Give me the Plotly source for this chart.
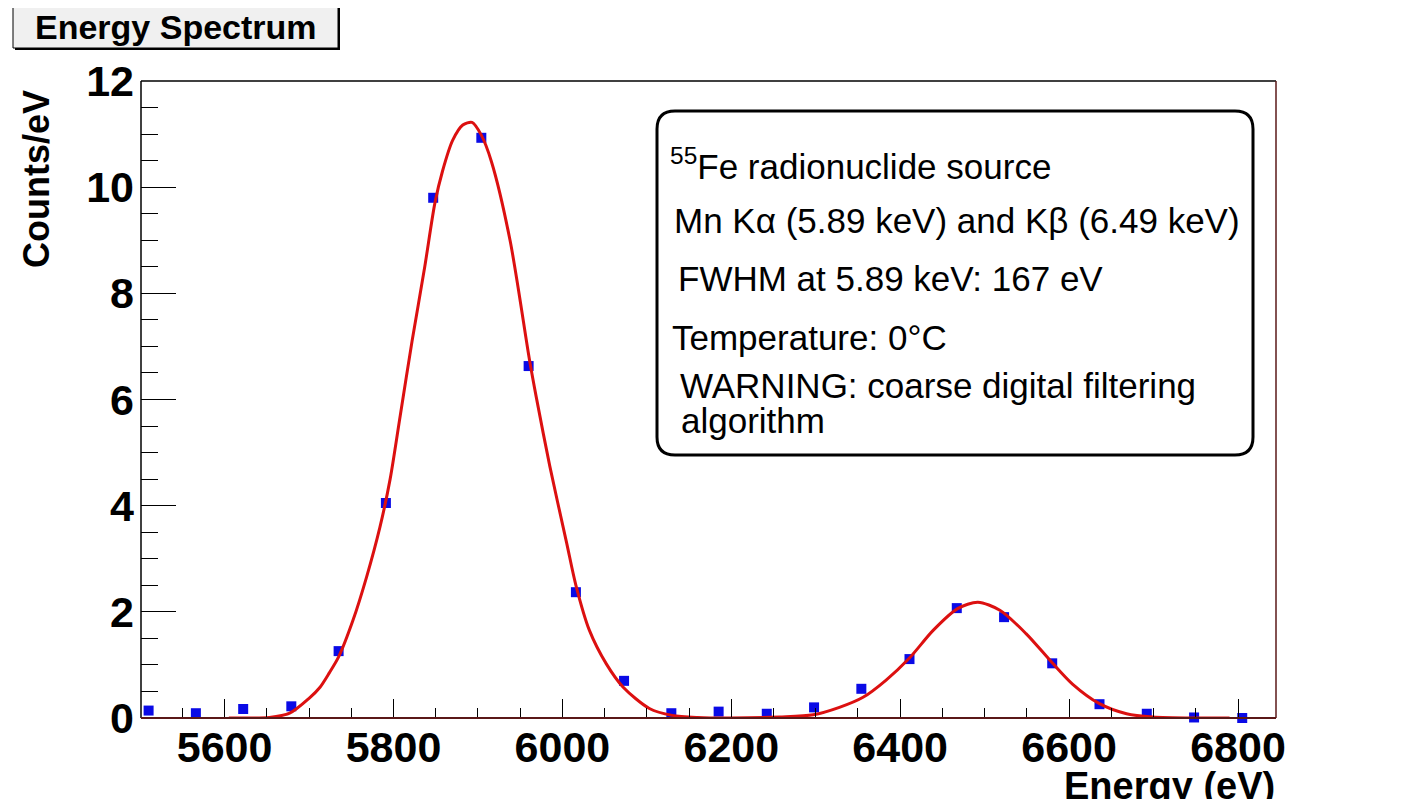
import plotly.graph_objects as go

# measured spectrum (Counts/eV per bin)
energy = [5510, 5566, 5622, 5679, 5735, 5791, 5847, 5904, 5960, 6016, 6073, 6129,
          6185, 6242, 6298, 6354, 6411, 6467, 6523, 6580, 6636, 6692, 6748, 6805]
counts = [0.14, 0.09, 0.17, 0.22, 1.26, 4.05, 9.80, 10.93, 6.63, 2.37, 0.70, 0.09,
          0.12, 0.08, 0.20, 0.55, 1.11, 2.07, 1.90, 1.03, 0.26, 0.08, 0.01, 0.0]

# fitted curve
fit_energy = [5605, 5630, 5653, 5677, 5700, 5713, 5724, 5735, 5752, 5768, 5784, 5796,
              5808, 5822, 5837, 5849, 5858, 5870, 5882, 5893, 5904, 5916, 5938, 5961,
              5969, 5985, 6005, 6016, 6032, 6052, 6072, 6103, 6130, 6160, 6200, 6257,
              6297, 6328, 6356, 6383, 6411, 6439, 6468, 6492, 6518, 6549, 6580, 6604,
              6636, 6668, 6699, 6750, 6790]
fit_counts = [0.0, 0.0, 0.01, 0.09, 0.37, 0.58, 0.85, 1.15, 1.84, 2.65, 3.6, 4.5,
              5.7, 7.1, 8.5, 9.7, 10.3, 10.88, 11.17, 11.22, 10.98, 10.48, 9.0, 6.75,
              6.05, 4.75, 3.3, 2.5, 1.65, 1.02, 0.58, 0.18, 0.05, 0.01, 0.0, 0.02,
              0.06, 0.2, 0.39, 0.71, 1.13, 1.65, 2.06, 2.18, 2.03, 1.59, 1.04, 0.64,
              0.27, 0.08, 0.02, 0.0, 0.0]

info_lines = [
    "<sup>55</sup>Fe radionuclide source",
    "Mn Kα (5.89 keV) and Kβ (6.49 keV)",
    "FWHM at 5.89 keV: 167 eV",
    "Temperature: 0°C",
    "WARNING: coarse digital filtering",
    "algorithm",
]

# the page body adds an 8px margin, so work in shifted page pixels
OFF = 8
W, H = 1418 - OFF, 799 - OFF
L, R, T, B = 141, 1276, 81, 718
FONT = "Liberation Sans, Arial, Helvetica, sans-serif"


def px(x):
    return (x - L) / (R - L)


def py(y):
    return (B - y) / (B - T)


fig = go.Figure()
fig.add_trace(go.Scatter(x=energy, y=counts, mode="markers",
                         marker=dict(symbol="square", size=10, color="#0a0ae6"),
                         cliponaxis=False, showlegend=False))
fig.add_trace(go.Scatter(x=fit_energy, y=fit_counts, mode="lines",
                         line=dict(color="#dc1010", width=3, shape="spline", smoothing=0.8),
                         cliponaxis=False, showlegend=False))

shapes = []
# frame
shapes.append(dict(type="line", xref="paper", yref="paper", x0=0, x1=1, y0=1, y1=1,
                   line=dict(color="black", width=1.5)))
shapes.append(dict(type="line", xref="paper", yref="paper", x0=0, x1=0, y0=0, y1=1,
                   line=dict(color="black", width=1.5)))
shapes.append(dict(type="line", xref="paper", yref="paper", x0=0, x1=1, y0=0, y1=0,
                   line=dict(color="#5a1818", width=2)))
shapes.append(dict(type="line", xref="paper", yref="paper", x0=1, x1=1, y0=0, y1=1,
                   line=dict(color="#5a1818", width=1.5)))

# title box with shadow
shapes.append(dict(type="rect", xref="paper", yref="paper",
                   x0=px(15), x1=px(340), y0=py(50), y1=py(7),
                   fillcolor="black", line=dict(width=0)))
shapes.append(dict(type="rect", xref="paper", yref="paper",
                   x0=px(13), x1=px(338), y0=py(48), y1=py(5),
                   fillcolor="#f0f0f0", line=dict(color="black", width=1)))

# rounded info box
bx0, bx1, by0, by1, r = 657, 1253, 111, 455, 18
rx, ry = r / (R - L), r / (B - T)
x0, x1, y0, y1 = px(bx0), px(bx1), py(by1), py(by0)
path = (f"M {x0 + rx},{y1} L {x1 - rx},{y1} Q {x1},{y1} {x1},{y1 - ry} "
        f"L {x1},{y0 + ry} Q {x1},{y0} {x1 - rx},{y0} "
        f"L {x0 + rx},{y0} Q {x0},{y0} {x0},{y0 + ry} "
        f"L {x0},{y1 - ry} Q {x0},{y1} {x0 + rx},{y1} Z")
shapes.append(dict(type="path", xref="paper", yref="paper", path=path,
                   fillcolor="white", line=dict(color="black", width=3)))

annotations = [
    dict(text="Energy Spectrum", x=px(176), y=py(27), xref="paper", yref="paper",
         showarrow=False, xanchor="center", yanchor="middle",
         font=dict(family=FONT, size=34, color="black", weight="bold")),
    dict(text="Counts/eV", x=px(37), y=py(88), xref="paper", yref="paper",
         showarrow=False, textangle=-90, xanchor="center", yanchor="top",
         font=dict(family=FONT, size=36, color="black", weight="bold")),
    dict(text="Energy (eV)", x=px(1277), y=py(786), xref="paper", yref="paper",
         showarrow=False, xanchor="right", yanchor="middle",
         font=dict(family=FONT, size=38, color="black", weight="bold")),
]
line_pos = [(668, 164), (672, 220), (676, 278), (670, 337), (678, 385), (679, 421)]
for txt, (lx, ly) in zip(info_lines, line_pos):
    annotations.append(dict(text=txt, x=px(lx), y=py(ly), xref="paper", yref="paper",
                            showarrow=False, xanchor="left", yanchor="middle",
                            font=dict(family=FONT, size=35, color="black")))

fig.update_layout(
    width=W, height=H,
    margin=dict(l=L - OFF, r=W - (R - OFF), t=T - OFF, b=H - (B - OFF), pad=0),
    paper_bgcolor="white", plot_bgcolor="white",
    shapes=shapes, annotations=annotations,
    xaxis=dict(range=[5501, 6845], dtick=200, tick0=0, showgrid=False, zeroline=False,
               showline=False, ticks="inside", ticklen=19, tickcolor="black", tickwidth=1,
               ticklabelstandoff=0,
               minor=dict(dtick=50, ticks="inside", ticklen=10, tickcolor="black"),
               tickfont=dict(family=FONT, size=43, color="black", weight="bold")),
    yaxis=dict(range=[0, 12], dtick=2, showgrid=False, zeroline=False, showline=False,
               ticks="inside", ticklen=35, tickcolor="black", tickwidth=1,
               ticklabelstandoff=6,
               minor=dict(dtick=0.5, ticks="inside", ticklen=17, tickcolor="black"),
               tickfont=dict(family=FONT, size=43, color="black", weight="bold")),
)

fig.write_html("out.html")
